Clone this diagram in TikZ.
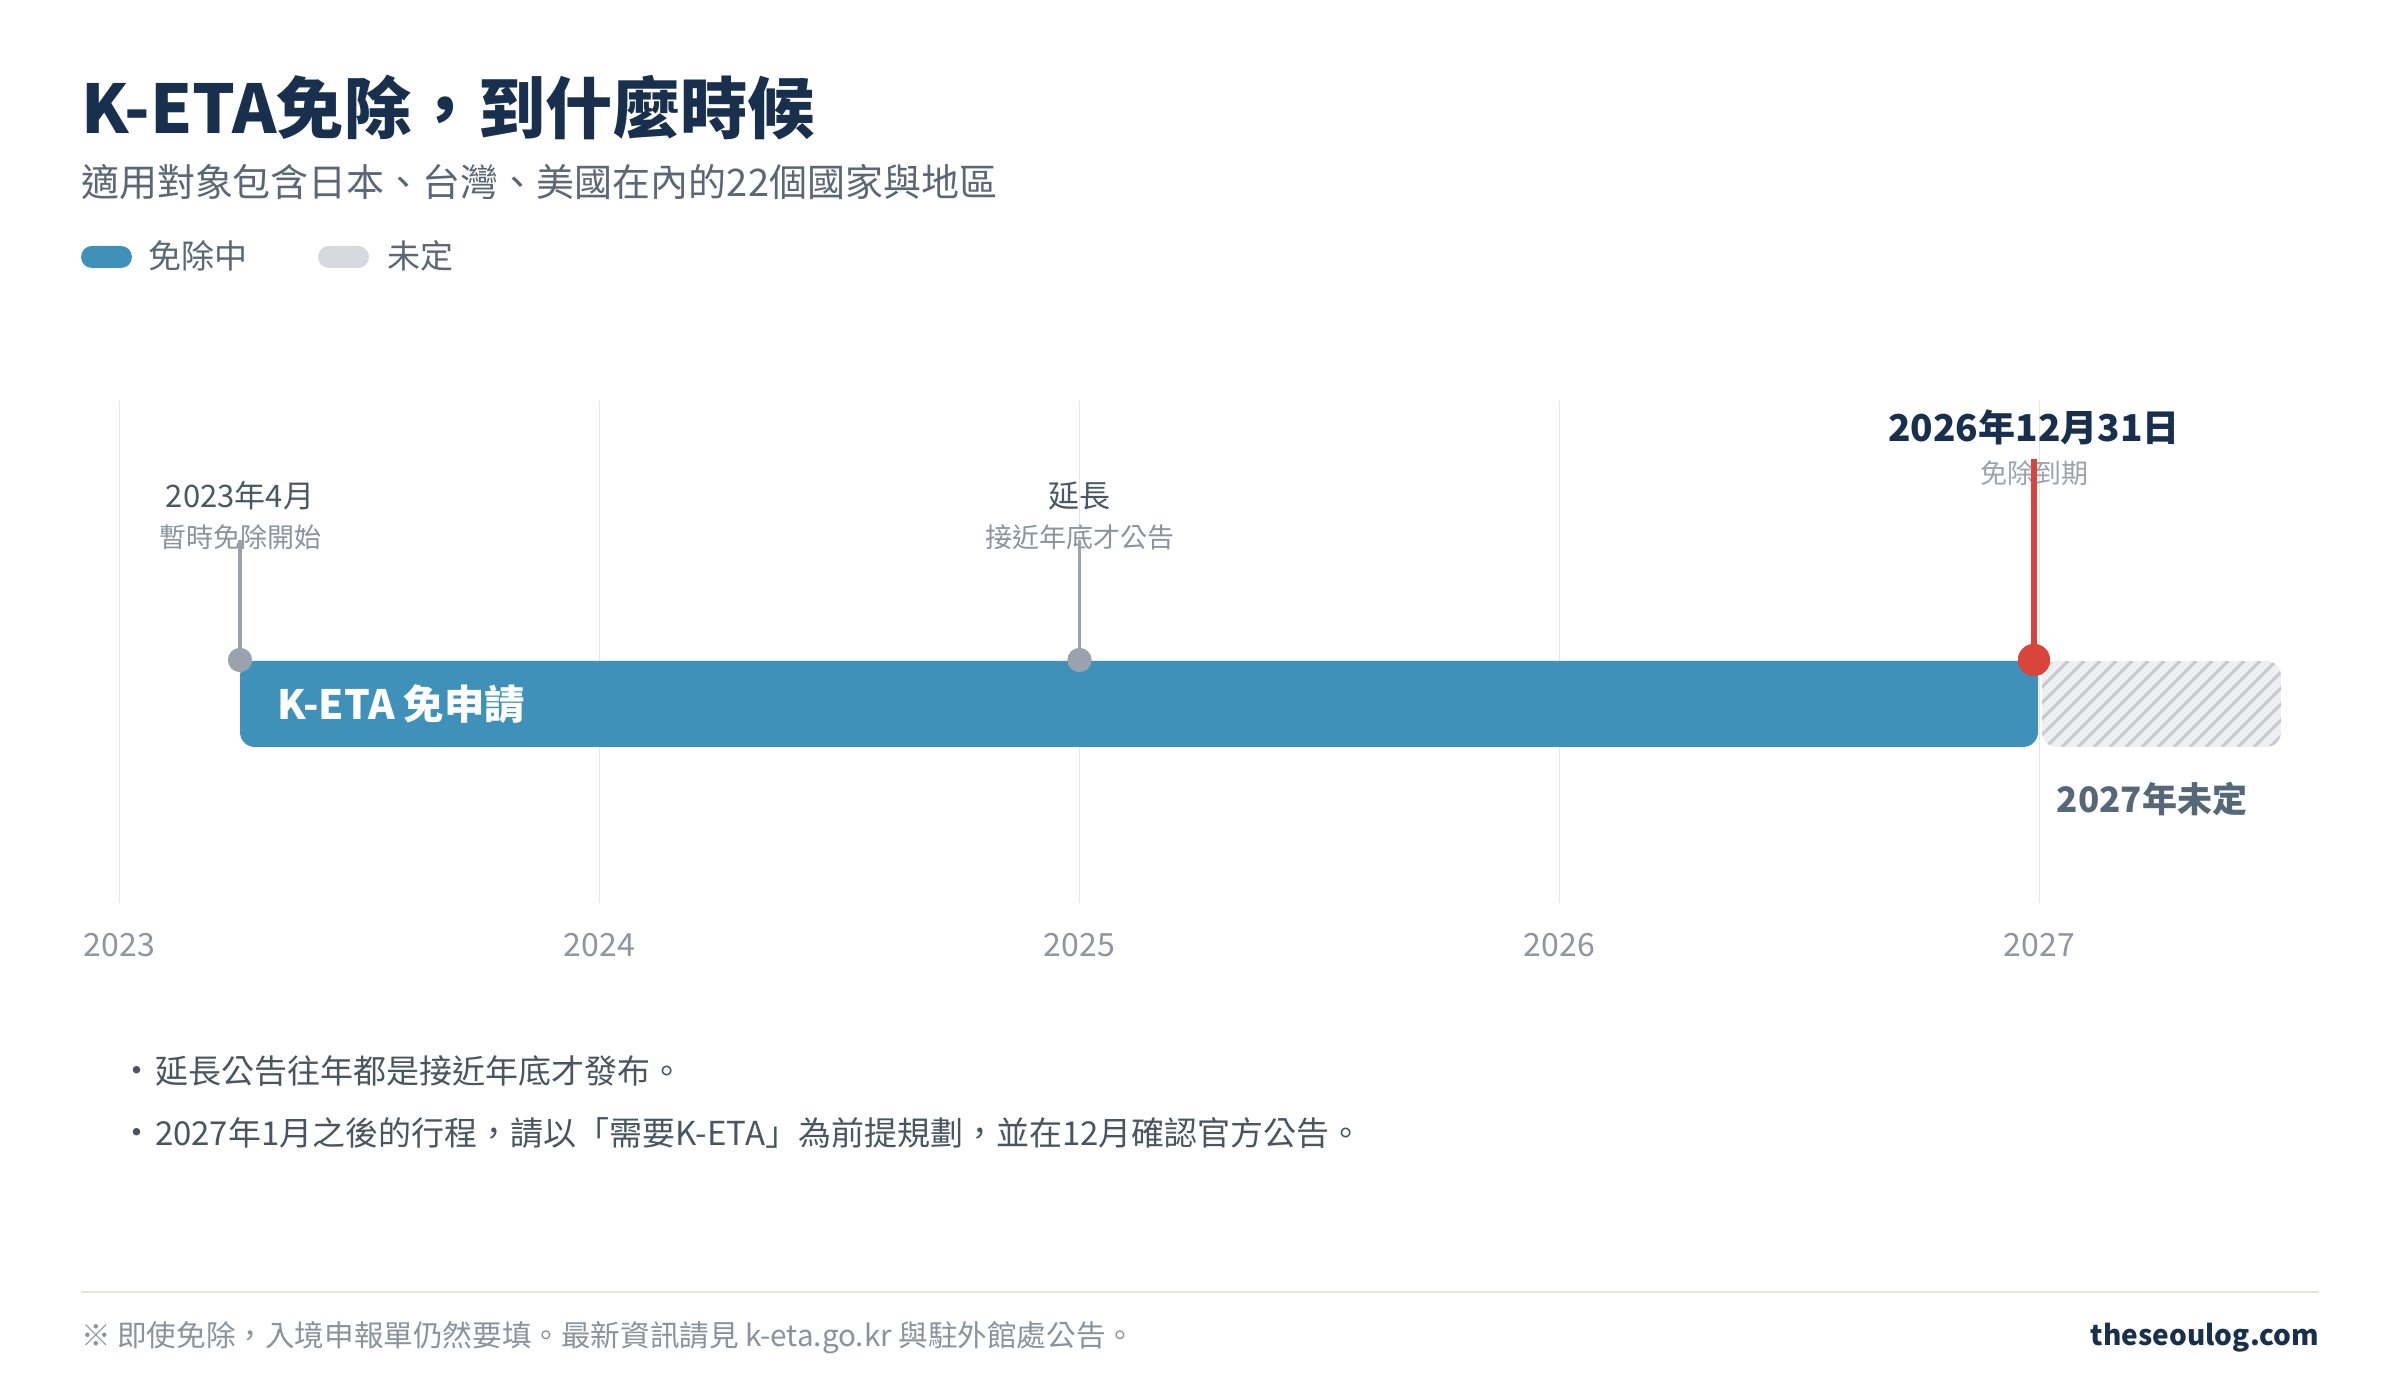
\documentclass[tikz,border=0pt]{standalone}
\usepackage{fontspec}
\setmainfont{Noto Sans CJK TC}
\newcommand{\fsz}[1]{\fontsize{#1}{#1}\selectfont}
\definecolor{navy}{HTML}{18304D}
\definecolor{subgrey}{HTML}{5B6776}
\definecolor{barblue}{HTML}{3F91BA}
\definecolor{pillgrey}{HTML}{D5D9DE}
\definecolor{gridc}{HTML}{E8E6E0}
\definecolor{yeargrey}{HTML}{8E96A0}
\definecolor{mgray}{HTML}{9AA2AD}
\definecolor{redc}{HTML}{D9453A}
\definecolor{hatchbg}{HTML}{EDEFF1}
\definecolor{hatchln}{HTML}{C6CBD1}
\definecolor{labc}{HTML}{4A5866}
\definecolor{sublabc}{HTML}{8A939E}
\definecolor{undc}{HTML}{566778}
\definecolor{notec}{HTML}{4A5562}
\definecolor{footc}{HTML}{8A939D}
\definecolor{rulec}{HTML}{E5E3DC}
\tikzset{
  txt/.style={inner sep=0pt, outer sep=0pt},
  gridline/.style={draw=gridc, line width=0.8pt},
  yearlab/.style={txt, text=yeargrey, font=\fsz{16pt}},
  mainlab/.style={txt, text=labc, font=\fsz{15.5pt}},
  sublab/.style={txt, text=sublabc, font=\fsz{13.5pt}},
  gdot/.style={circle, fill=mgray, inner sep=0pt, minimum size=12pt},
  rdot/.style={circle, fill=redc, inner sep=0pt, minimum size=16pt},
  gstem/.style={draw=mgray, line width=1.6pt},
  rstem/.style={draw=redc, line width=3pt},
  pill/.style={rounded corners=5.5pt},
  note/.style={txt, anchor=west, text=notec, font=\fsz{16.5pt}},
  bullet/.style={txt, anchor=base, text=notec, font=\fsz{17.5pt}},
}
\begin{document}
\begin{tikzpicture}[x=0.5pt,y=-0.5pt]
\fill[white] (0,0) rectangle (2400,1400);
\useasboundingbox (0,0) rectangle (2400,1400);

% title
\node[txt, anchor=west, text=navy, font=\bfseries\fsz{33.6pt}] (title) at (81,108) {K-ETA免除，到什麼時候};
\node[txt, anchor=west, text=subgrey, font=\fsz{19pt}] (subtitle) at (81,182) {適用對象包含日本、台灣、美國在內的22個國家與地區};

% legend
\fill[barblue, pill] (81,246) rectangle (132,268);
\node[txt, anchor=west, text=subgrey, font=\fsz{16.5pt}] (leg1) at (148,256) {免除中};
\fill[pillgrey, pill] (318,246) rectangle (369,268);
\node[txt, anchor=west, text=subgrey, font=\fsz{16.5pt}] (leg2) at (387,256) {未定};

% grid
\foreach \x in {119.5,599.5,1079.5,1559.5,2039.5}
  \draw[gridline] (\x,401) -- (\x,903);
\node[yearlab] (y2023) at (119.5,945) {2023};
\node[yearlab] (y2024) at (599.5,945) {2024};
\node[yearlab] (y2025) at (1079.5,945) {2025};
\node[yearlab] (y2026) at (1559.5,945) {2026};
\node[yearlab] (y2027) at (2039.5,945) {2027};

% bar
\fill[barblue, rounded corners=7.5pt] (240,661) rectangle (2038,747);
\node[txt, anchor=west, text=white, font=\bfseries\fsz{20.2pt}] (barlab) at (277,704) {K-ETA 免申請};

% hatched undecided part
\begin{scope}
  \clip[rounded corners=7.5pt] (2042,661) rectangle (2281,747);
  \fill[hatchbg] (2042,661) rectangle (2281,747);
  \foreach \i in {0,...,22}
    \draw[hatchln, line width=1.5pt] ({1950+16*\i},747) -- ({2036+16*\i},661);
\end{scope}
\node[txt, text=undc, font=\bfseries\fsz{17.5pt}] (und) at (2152,799) {2027年未定};

% marker 1
\node[mainlab] (m1t) at (240,496) {2023年4月};
\node[sublab] (m1s) at (240,537) {暫時免除開始};
\coordinate (m1top) at (240,540);
\node[gdot] (m1) at (240,660) {};
\draw[gstem] (m1.center) -- (m1top);
\node[gdot] (m1b) at (240,660) {};

% marker 2
\node[mainlab] (m2t) at (1079.5,496) {延長};
\node[sublab] (m2s) at (1079.5,537) {接近年底才公告};
\coordinate (m2top) at (1079.5,540);
\node[gdot] (m2) at (1079.5,660) {};
\draw[gstem] (m2.center) -- (m2top);
\node[gdot] (m2b) at (1079.5,660) {};

% marker 3 (red)
\node[txt, text=navy, font=\bfseries\fsz{18.5pt}] (m3t) at (2034,427) {2026年12月31日};
\node[sublab, text=sublabc!85] (m3s) at (2034,473) {免除到期};
\coordinate (m3top) at (2034,459);
\node[rdot] (m3) at (2034,660) {};
\draw[rstem] (m3.center) -- (m3top);
\node[rdot] (m3b) at (2034,660) {};

% notes
\coordinate (bx) at (137,0);
\node[note] (n1) at (155,1071) {延長公告往年都是接近年底才發布。};
\node[bullet] (b1) at (n1.base -| bx) {•};
\node[note] (n2) at (155,1133) {2027年1月之後的行程，請以「需要K-ETA」為前提規劃，並在12月確認官方公告。};
\node[bullet] (b2) at (n2.base -| bx) {•};

% footer
\draw[rulec, line width=0.8pt] (81,1292) -- (2319,1292);
\node[txt, anchor=west, text=footc, font=\fsz{14.8pt}] (foot) at (81,1338) {※ 即使免除，入境申報單仍然要填。最新資訊請見 k-eta.go.kr 與駐外館處公告。};
\node[txt, anchor=east, text=navy, font=\bfseries\fsz{14pt}] (site) at (2319,1338) {theseoulog.com};
\end{tikzpicture}
\end{document}
